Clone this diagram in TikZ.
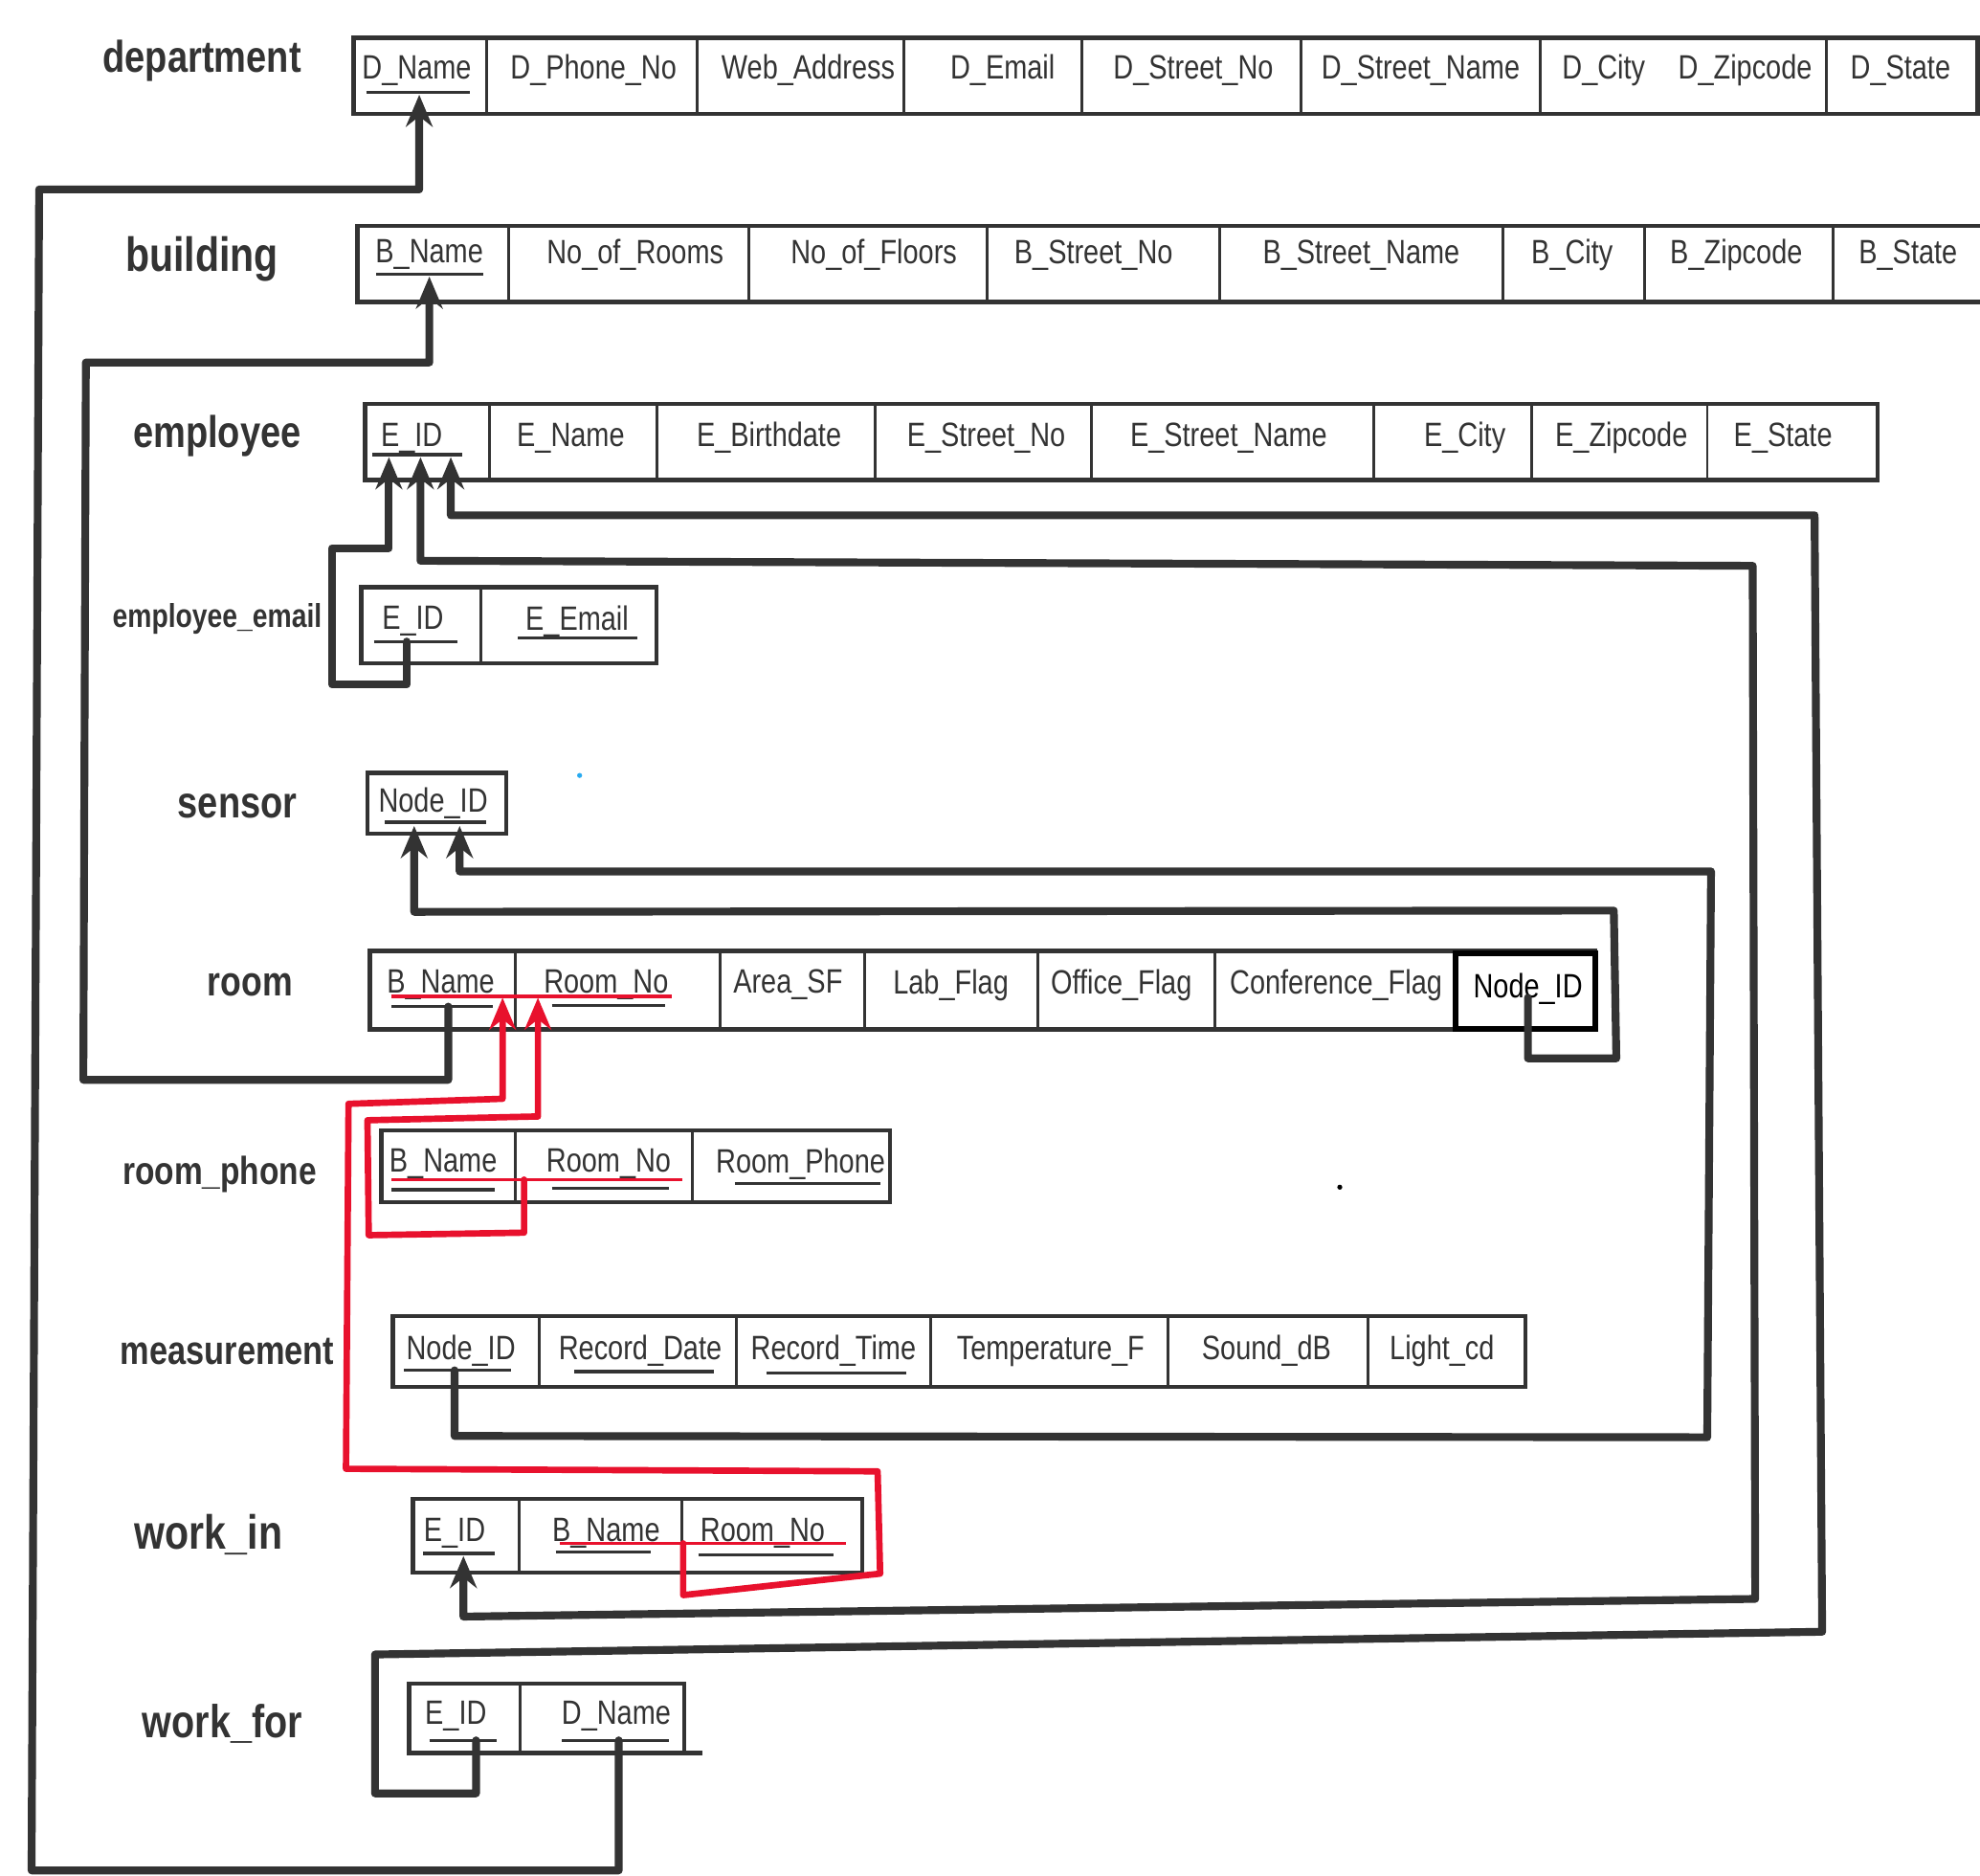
\documentclass[tikz,border=0pt]{standalone}
\usepackage{fontspec}
\setmainfont{Liberation Sans}
\newfontfamily\handfont{Liberation Sans}[FakeStretch=0.82]
\usetikzlibrary{arrows.meta}
\definecolor{ink}{RGB}{51,51,51}
\definecolor{fkred}{RGB}{232,17,45}
\definecolor{dotblue}{RGB}{40,170,240}
\begin{document}
\begin{tikzpicture}[x=0.0125cm,y=-0.0125cm,
  tbl/.style={draw=ink,line width=1.2pt},
  div/.style={draw=ink,line width=0.8pt},
  ul/.style={draw=ink,line width=0.9pt},
  redul/.style={draw=fkred,line width=1.0pt},
  cell/.style={font=\handfont\fontsize{9.5}{11}\selectfont,text=ink,inner sep=0pt,yshift=-1pt},
  lbl/.style={font=\handfont\bfseries\fontsize{12.5}{14}\selectfont,text=ink,inner sep=0pt},
  link/.style={draw=ink,line width=2.2pt,line join=round,line cap=round},
  redlink/.style={draw=fkred,line width=1.8pt,line join=round,line cap=round},
  tip/.style={-{Stealth[length=9pt,width=7.5pt]}},
  tips/.style={{Stealth[length=9pt,width=7.5pt]}-{Stealth[length=9pt,width=7.5pt]}}]
\useasboundingbox (0,0) rectangle (1568,1485);
\fill[white] (0,0) rectangle (1568,1485);
\clip (0,0) rectangle (1568,1485);

% ---------- labels ----------
\node[lbl] (l-dep) at (160,48) {department};
\node[lbl,font=\handfont\bfseries\fontsize{13.5}{15}\selectfont] (l-bld) at (160,205) {building};
\node[lbl] (l-emp) at (172,345) {employee};
\node[lbl,font=\handfont\bfseries\fontsize{9.3}{11}\selectfont] (l-ee) at (172,490) {employee\_email};
\node[lbl] (l-sen) at (188,638) {sensor};
\node[lbl,font=\handfont\bfseries\fontsize{11.7}{13}\selectfont] (l-room) at (198,780) {room};
\node[lbl,font=\handfont\bfseries\fontsize{11}{13}\selectfont] (l-rp) at (174,930) {room\_phone};
\node[lbl,font=\handfont\bfseries\fontsize{11.3}{13}\selectfont] (l-meas) at (180,1070) {measurement};
\node[lbl,font=\handfont\bfseries\fontsize{13.5}{15}\selectfont] (l-wi) at (165,1215) {work\_in};
\node[lbl,font=\handfont\bfseries\fontsize{13}{15}\selectfont] (l-wf) at (176,1365) {work\_for};

% ---------- tables ----------
% department
\draw[tbl] (280,30) rectangle (1566,90);
\foreach \x in {385,552,716,857,1030,1220,1446} \draw[div] (\x,30) -- (\x,90);
\foreach \x/\t/\n in {330/D\_Name/dn,470/D\_Phone\_No/dp,640/Web\_Address/wa,794/D\_Email/de,945/D\_Street\_No/dsn,1125/D\_Street\_Name/dst,1270/D\_City/dc,1382/D\_Zipcode/dz,1505/D\_State/ds}
  \node[cell] (dep-\n) at (\x,53) {\t};
% building
\draw[tbl] (283,179) rectangle (1580,239);
\foreach \x in {403,593,782,966,1190,1302,1452} \draw[div] (\x,179) -- (\x,239);
\foreach \x/\t/\n in {340/B\_Name/bn,503/No\_of\_Rooms/nr,692/No\_of\_Floors/nf,866/B\_Street\_No/bsn,1078/B\_Street\_Name/bst,1245/B\_City/bc,1375/B\_Zipcode/bz,1511/B\_State/bs}
  \node[cell] (bld-\n) at (\x,199) {\t};
% employee
\draw[tbl] (289,320) rectangle (1487,380);
\foreach \x in {388,520,693,864,1088,1213,1352} \draw[div] (\x,320) -- (\x,380);
\foreach \x/\t/\n in {326/E\_ID/id,452/E\_Name/nm,609/E\_Birthdate/bd,781/E\_Street\_No/esn,973/E\_Street\_Name/est,1160/E\_City/ec,1284/E\_Zipcode/ez,1412/E\_State/es}
  \node[cell] (emp-\n) at (\x,344) {\t};
% employee_email
\draw[tbl] (286,465) rectangle (520,525);
\draw[div] (381,465) -- (381,525);
\node[cell] (ee-id) at (327,489) {E\_ID};
\node[cell] (ee-em) at (457,489) {E\_Email};
% sensor
\draw[tbl] (291,612) rectangle (401,660);
\node[cell] (sen-id) at (343,633) {Node\_ID};
% room
\draw[tbl] (293,753) rectangle (1263,815);
\foreach \x in {408,570,685,822,962} \draw[div] (\x,753) -- (\x,815);
\draw[draw=black,line width=1.6pt] (1153,755) rectangle (1263,815);
\foreach \x/\t/\n in {349/B\_Name/bn,480/Room\_No/rn,624/Area\_SF/ar,753/Lab\_Flag/lf,888/Office\_Flag/of,1058/Conference\_Flag/cf}
  \node[cell] (room-\n) at (\x,777) {\t};
\node[cell,text=black] (room-nid) at (1210,780) {Node\_ID};
% room_phone
\draw[tbl] (302,895) rectangle (705,952);
\foreach \x in {408,548} \draw[div] (\x,895) -- (\x,952);
\foreach \x/\t/\n in {351/B\_Name/bn,482/Room\_No/rn,634/Room\_Phone/ph}
  \node[cell] (rp-\n) at (\x,919) {\t};
% measurement
\draw[tbl] (311,1042) rectangle (1208,1098);
\foreach \x in {427,583,737,925,1083} \draw[div] (\x,1042) -- (\x,1098);
\foreach \x/\t/\n in {365/Node\_ID/nid,507/Record\_Date/rd,660/Record\_Time/rt,832/Temperature\_F/tf,1003/Sound\_dB/sd,1142/Light\_cd/lc}
  \node[cell] (ms-\n) at (\x,1067) {\t};
% work_in
\draw[tbl] (327,1187) rectangle (683,1245);
\foreach \x in {411,540} \draw[div] (\x,1187) -- (\x,1245);
\foreach \x/\t/\n in {360/E\_ID/id,480/B\_Name/bn,604/Room\_No/rn}
  \node[cell] (wi-\n) at (\x,1211) {\t};
% work_for
\draw[tbl] (324,1333) rectangle (542,1388);
\draw[tbl] (542,1388) -- (556,1388);
\draw[div] (412,1333) -- (412,1388);
\node[cell] (wf-id) at (361,1356) {E\_ID};
\node[cell] (wf-dn) at (488,1356) {D\_Name};

% ---------- key underlines ----------
\draw[ul] (290,73) -- (372,73);
\draw[ul] (298,217) -- (383,217);
\draw[ul] (295,360) -- (366,360);
\draw[ul] (296,508) -- (362,508);
\draw[ul] (410,505) -- (505,505);
\draw[ul] (305,651) -- (385,651);
\draw[ul] (310,797) -- (390,797);
\draw[ul] (437,796) -- (527,796);
\draw[ul] (310,942) -- (392,942);
\draw[ul] (437,941) -- (530,941);
\draw[ul] (582,937) -- (697,937);
\draw[ul] (320,1085) -- (405,1085);
\draw[ul] (455,1086) -- (565,1086);
\draw[ul] (607,1087) -- (718,1087);
\draw[ul] (335,1230) -- (392,1230);
\draw[ul] (440,1229) -- (515,1229);
\draw[ul] (553,1231) -- (660,1231);
\draw[ul] (340,1378) -- (393,1378);
\draw[ul] (445,1378) -- (530,1378);
\draw[redul] (310,789) -- (532,789);
\draw[redul] (310,934) -- (540,934);
\draw[redul] (443,1222) -- (670,1222);

% ---------- connector end points ----------
\coordinate (dep-dn-in) at (332,75);
\coordinate (bld-bn-in) at (340,219);
\coordinate (emp-id-a) at (308,362);
\coordinate (emp-id-b) at (333,362);
\coordinate (emp-id-c) at (357,362);
\coordinate (sen-id-a) at (328,654);
\coordinate (sen-id-b) at (364,654);
\coordinate (room-bn-in) at (398,790);
\coordinate (room-rn-in) at (426,790);
\coordinate (wf-dn-u) at (490,1378);
\coordinate (wf-id-u) at (377,1378);
\coordinate (room-bn-u) at (355,797);
\coordinate (ee-id-u) at (322,508);
\coordinate (wi-id-in) at (367,1232);
\coordinate (room-nid-u) at (1210,790);
\coordinate (ms-nid-u) at (360,1085);
\coordinate (wi-rn-u) at (541,1222);
\coordinate (rp-bn-u) at (415,934);

% ---------- connectors ----------
% work_for.D_Name -> department.D_Name
\draw[link,tip] (wf-dn-u) -- (490,1481) -- (25,1481) -- (31,150) -- (332,150) -- (dep-dn-in);
% room.B_Name -> building.B_Name
\draw[link,tip] (room-bn-u) -- (355,855) -- (66,855) -- (68,287) -- (340,287) -- (bld-bn-in);
% employee_email.E_ID -> employee.E_ID
\draw[link,tip] (ee-id-u) -- (322,542) -- (263,542) -- (263,434) -- (308,434) -- (emp-id-a);
% work_in.E_ID <-> employee.E_ID
\draw[link,tips] (emp-id-b) -- (333,444) -- (1388,448) -- (1390,1266) -- (367,1280) -- (wi-id-in);
% work_for.E_ID -> employee.E_ID
\draw[link,tip] (wf-id-u) -- (377,1420) -- (297,1420) -- (297,1310) -- (1443,1292) -- (1437,408) -- (357,408) -- (emp-id-c);
% room.Node_ID -> sensor.Node_ID
\draw[link,tip] (room-nid-u) -- (1210,838) -- (1280,838) -- (1278,721) -- (328,722) -- (sen-id-a);
% measurement.Node_ID -> sensor.Node_ID
\draw[link,tip] (ms-nid-u) -- (360,1137) -- (1352,1138) -- (1355,690) -- (364,690) -- (sen-id-b);
% work_in (B_Name, Room_No) -> room (B_Name, Room_No)
\draw[redlink,tip] (wi-rn-u) -- (541,1263) -- (697,1246) -- (695,1165) -- (274,1163) -- (276,874) -- (398,870) -- (room-bn-in);
% room_phone (B_Name, Room_No) -> room (B_Name, Room_No)
\draw[redlink,tip] (rp-bn-u) -- (415,976) -- (292,978) -- (291,887) -- (426,884) -- (room-rn-in);

% ---------- stray dots ----------
\fill[dotblue] (459,614) circle (2);
\fill[black] (1061,940) circle (2);
\end{tikzpicture}
\end{document}
